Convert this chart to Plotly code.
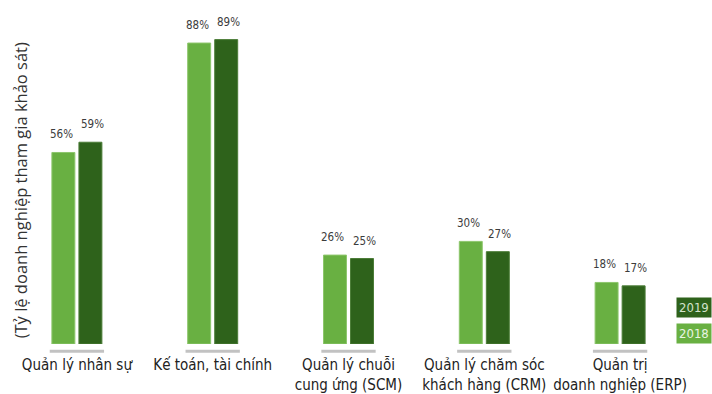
import plotly.graph_objects as go

categories = [
    "Quản lý nhân sự",
    "Kế toán, tài chính",
    "Quản lý chuỗi<br>cung ứng (SCM)",
    "Quản lý chăm sóc<br>khách hàng (CRM)",
    "Quản trị<br>doanh nghiệp (ERP)",
]
values_2018 = [56, 88, 26, 30, 18]
values_2019 = [59, 89, 25, 27, 17]
years = ["2018", "2019"]

LIGHT = "#69b042"
DARK = "#2e621b"
LABEL_FONT = "DejaVu Sans Condensed, sans-serif"

x_idx = list(range(len(categories)))

fig = go.Figure()
fig.add_trace(go.Bar(
    x=x_idx, y=values_2018, name=years[0],
    marker=dict(color=LIGHT, line=dict(color="#8dc66c", width=1)),
    showlegend=False,
))
fig.add_trace(go.Bar(
    x=x_idx, y=values_2019, name=years[1],
    marker=dict(color=DARK, line=dict(color="#4c7d38", width=1)),
    showlegend=False,
))

annotations = []
# value labels above each bar
offset = 0.115
for i, (a, b) in enumerate(zip(values_2018, values_2019)):
    for dx, v in ((-offset, a), (offset, b)):
        annotations.append(dict(
            x=i + dx, y=v, xref="x", yref="y", text=f"{v}%",
            showarrow=False, yanchor="bottom", yshift=9,
            font=dict(family=LABEL_FONT, size=11.5, color="#3c3c3c"),
        ))

# grey underline beneath each bar pair
shapes = []
for i in x_idx:
    shapes.append(dict(
        type="line", xref="x", yref="paper",
        x0=i - 0.2, x1=i + 0.2, y0=-0.022, y1=-0.022,
        line=dict(color="#c2c2c2", width=3),
    ))

# y-axis caption
annotations.append(dict(
    x=0, y=0.46, xref="paper", yref="paper", xanchor="center", yanchor="middle",
    xshift=11, text="(Tỷ lệ doanh nghiệp tham gia khảo sát)", textangle=-90,
    showarrow=False, font=dict(family="Open Sans, sans-serif", size=16.5, color="#333333"),
))

# year key boxes
for yr, col, ypos, fc in (("2019", DARK, 0.108, "#d3e3cb"), ("2018", LIGHT, 0.032, "#eaf5e2")):
    annotations.append(dict(
        x=1.0, y=ypos, xref="paper", yref="paper", xanchor="left", yanchor="middle",
        xshift=-12, text=yr, showarrow=False, bgcolor=col, borderpad=2,
        font=dict(family=LABEL_FONT, size=13, color=fc),
    ))

fig.update_layout(
    width=712, height=394,
    margin=dict(l=9, r=24, t=10, b=50),
    paper_bgcolor="white", plot_bgcolor="white",
    barmode="group", bargap=0.602, bargroupgap=0.15,
    xaxis=dict(
        range=[-0.5, 4.5], tickmode="array", tickvals=x_idx, ticktext=categories,
        showgrid=False, zeroline=False, showline=False, ticks="",
        ticklabelstandoff=10, automargin=False, tickangle=0,
        tickfont=dict(family=LABEL_FONT, size=15, color="#222222"),
    ),
    yaxis=dict(range=[0, 97.66], visible=False),
    annotations=annotations,
    shapes=shapes,
)

fig.write_html("out.html")
